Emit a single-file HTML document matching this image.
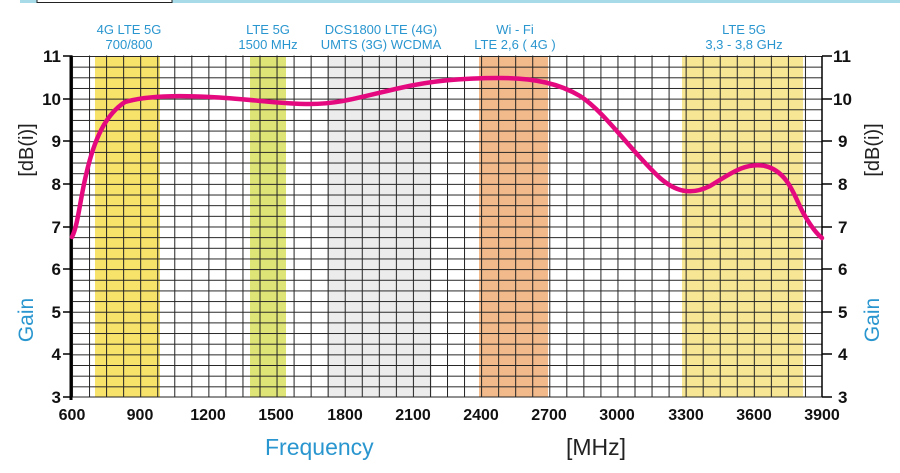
<!DOCTYPE html>
<html><head><meta charset="utf-8"><style>
html,body{margin:0;padding:0;background:#fff;}
svg{display:block;font-family:"Liberation Sans",Arial,sans-serif;}
</style></head><body>
<svg width="900" height="473" viewBox="0 0 900 473" xmlns="http://www.w3.org/2000/svg">
<defs>
<pattern id="gp" x="72" y="56" width="17.0455" height="10.65625" patternUnits="userSpaceOnUse">
<path d="M0.5,0 V10.65625 M0,0.5 H17.0455" stroke="#222" stroke-width="1" fill="none"/>
</pattern>
</defs>
<rect x="20" y="0" width="880" height="3" fill="#a8dbe8"/>
<rect x="37" y="-1" width="135" height="3.5" fill="#fff" stroke="#222" stroke-width="1"/>
<!-- bands -->
<rect x="95" y="56" width="65" height="341" fill="#f7e26a"/>
<rect x="250" y="56" width="36" height="341" fill="#dfe476"/>
<rect x="327" y="56" width="105" height="341" fill="#ececec"/>
<rect x="479" y="56" width="69" height="341" fill="#f2b98a"/>
<rect x="682" y="56" width="121" height="341" fill="#f7e694"/>
<rect x="71.5" y="55.5" width="751" height="342" fill="url(#gp)"/>
<line x1="72" y1="397" x2="822" y2="397" stroke="#222" stroke-width="1"/>
<line x1="71" y1="56" x2="71" y2="400" stroke="#000" stroke-width="3"/>
<line x1="822" y1="56" x2="822" y2="397" stroke="#000" stroke-width="1.5"/>
<g stroke="#000" stroke-width="1.5">
<line x1="63" y1="56" x2="72" y2="56"/><line x1="63" y1="99" x2="72" y2="99"/><line x1="63" y1="141" x2="72" y2="141"/><line x1="63" y1="184" x2="72" y2="184"/><line x1="63" y1="227" x2="72" y2="227"/><line x1="63" y1="269" x2="72" y2="269"/><line x1="63" y1="312" x2="72" y2="312"/><line x1="63" y1="354" x2="72" y2="354"/><line x1="63" y1="397" x2="72" y2="397"/>
<line x1="822" y1="56" x2="832" y2="56"/><line x1="822" y1="99" x2="832" y2="99"/><line x1="822" y1="141" x2="832" y2="141"/><line x1="822" y1="184" x2="832" y2="184"/><line x1="822" y1="227" x2="832" y2="227"/><line x1="822" y1="269" x2="832" y2="269"/><line x1="822" y1="312" x2="832" y2="312"/><line x1="822" y1="354" x2="832" y2="354"/><line x1="822" y1="397" x2="832" y2="397"/>
</g>
<!-- curve -->
<path d="M72,237 C78,225 80,200 86,175 C94,140 105,115 125,102 C145,96 175,95 210,97 C250,99 280,104 310,104 C340,104 360,97 400,88 C430,81 460,78 500,78 C535,78 560,84 580,96 C605,112 630,150 660,178 C675,191 690,196 710,186 C730,174 745,162 765,166 C790,172 795,200 805,216 C812,228 817,234 822,238" fill="none" stroke="#e5097f" stroke-width="4.5" stroke-linecap="round"/>
<!-- y labels -->
<g font-size="17" font-weight="bold" fill="#111">
<g text-anchor="end">
<text x="61" y="62">11</text><text x="61" y="105">10</text><text x="61" y="147">9</text><text x="61" y="190">8</text><text x="61" y="233">7</text><text x="61" y="275">6</text><text x="61" y="318">5</text><text x="61" y="360">4</text><text x="61" y="403">3</text>
</g>
<g text-anchor="start">
<text x="833" y="62">11</text><text x="833" y="105">10</text><text x="838" y="147">9</text><text x="838" y="190">8</text><text x="838" y="233">7</text><text x="838" y="275">6</text><text x="838" y="318">5</text><text x="838" y="360">4</text><text x="838" y="403">3</text>
</g>
</g>
<g font-size="16" font-weight="bold" fill="#111" text-anchor="middle">
<text x="72" y="420">600</text><text x="140" y="420">900</text><text x="208" y="420">1200</text><text x="276" y="420">1500</text><text x="345" y="420">1800</text><text x="413" y="420">2100</text><text x="481" y="420">2400</text><text x="549" y="420">2700</text><text x="617" y="420">3000</text><text x="686" y="420">3300</text><text x="754" y="420">3600</text><text x="822" y="420">3900</text>
</g>
<text x="265" y="455" font-size="23" fill="#2a96cf">Frequency</text>
<text x="566" y="455" font-size="23" fill="#222">[MHz]</text>
<text transform="translate(33,150) rotate(-90)" font-size="20" fill="#222" text-anchor="middle">[dB(i)]</text>
<text transform="translate(33,320) rotate(-90)" font-size="21" fill="#2a96cf" text-anchor="middle">Gain</text>
<text transform="translate(879,150) rotate(-90)" font-size="20" fill="#222" text-anchor="middle">[dB(i)]</text>
<text transform="translate(879,320) rotate(-90)" font-size="21" fill="#2a96cf" text-anchor="middle">Gain</text>
<g font-size="13" fill="#2a96cf" text-anchor="middle">
<text x="129" y="34">4G LTE 5G</text><text x="129" y="49">700/800</text>
<text x="268" y="34">LTE 5G</text><text x="268" y="49">1500 MHz</text>
<text x="381" y="34">DCS1800 LTE (4G)</text><text x="381" y="49">UMTS (3G) WCDMA</text>
<text x="515" y="34">Wi - Fi</text><text x="515" y="49">LTE 2,6 ( 4G )</text>
<text x="744" y="34">LTE 5G</text><text x="744" y="49">3,3 - 3,8 GHz</text>
</g>
</svg>
</body></html>
